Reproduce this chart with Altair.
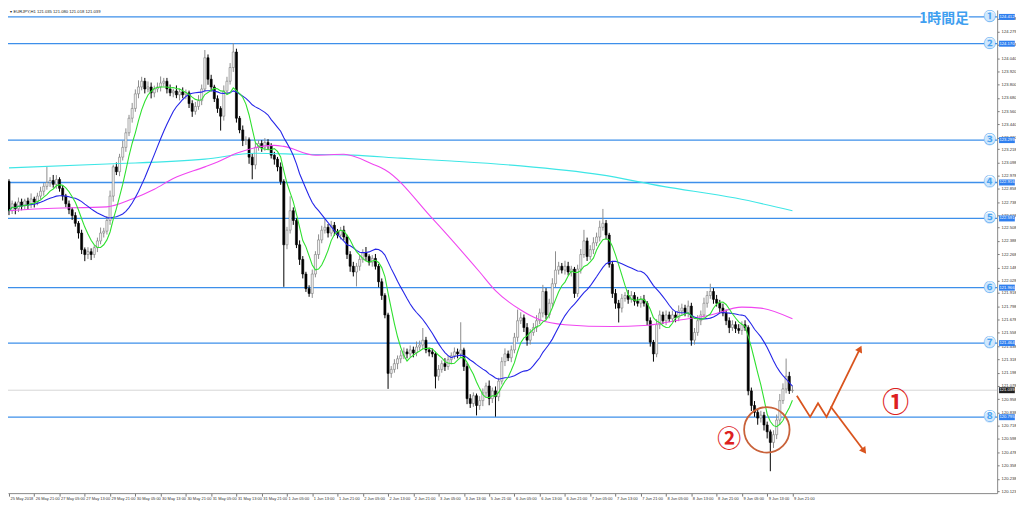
import altair as alt
import pandas as pd

# ---------------- data (EURJPY, H1) ----------------
FIRST_OPEN = 122.925
CLOSE = [
    122.661, 122.723, 122.679, 122.740, 122.705, 122.749, 122.714, 122.767, 122.740, 122.793,
    122.837, 122.881, 122.916, 122.934, 122.899, 122.943, 122.863, 122.793, 122.723, 122.670,
    122.617, 122.547, 122.459, 122.309, 122.265, 122.291, 122.265, 122.327, 122.388, 122.459,
    122.476, 122.573, 122.793, 123.057, 123.013, 123.145, 123.233, 123.365, 123.497, 123.585,
    123.717, 123.779, 123.831, 123.761, 123.779, 123.726, 123.761, 123.779, 123.814, 123.831,
    123.761, 123.726, 123.743, 123.708, 123.735, 123.708, 123.726, 123.629, 123.559, 123.603,
    123.655, 123.761, 124.043, 123.849, 123.779, 123.673, 123.585, 123.515, 123.743, 123.831,
    123.955, 124.095, 123.497, 123.391, 123.295, 123.303, 123.145, 123.075, 123.233, 123.268,
    123.233, 123.277, 123.251, 123.163, 123.127, 123.057, 122.925, 122.353, 122.485, 122.661,
    122.573, 122.353, 122.221, 122.089, 121.957, 121.913, 122.089, 122.265, 122.397, 122.485,
    122.511, 122.459, 122.529, 122.476, 122.441, 122.485, 122.423, 122.265, 122.159, 122.107,
    122.159, 122.221, 122.283, 122.247, 122.195, 122.230, 122.159, 122.019, 121.895, 121.719,
    121.191, 121.227, 121.279, 121.323, 121.350, 121.385, 121.367, 121.403, 121.376, 121.429,
    121.447, 121.491, 121.403, 121.385, 121.367, 121.165, 121.227, 121.279, 121.253, 121.315,
    121.350, 121.385, 121.367, 121.403, 121.253, 120.963, 120.919, 120.989, 120.901, 120.945,
    121.015, 121.077, 120.963, 121.033, 120.980, 121.121, 121.297, 121.367, 121.332, 121.403,
    121.517, 121.667, 121.693, 121.605, 121.491, 121.561, 121.605, 121.667, 121.737, 121.931,
    121.719, 121.825, 122.001, 122.124, 122.159, 122.124, 122.159, 122.107, 122.133, 121.913,
    122.133, 122.265, 122.388, 122.247, 122.309, 122.371, 122.423, 122.511, 122.547, 122.441,
    122.177, 121.913, 121.825, 121.781, 121.869, 121.895, 121.860, 121.895, 121.843, 121.825,
    121.860, 121.825, 121.667, 121.473, 121.367, 121.631, 121.719, 121.667, 121.719, 121.684,
    121.719, 121.693, 121.755, 121.781, 121.737, 121.799, 121.491, 121.561, 121.667, 121.719,
    121.825, 121.895, 121.931, 121.860, 121.825, 121.781, 121.737, 121.667, 121.605, 121.631,
    121.596, 121.579, 121.631, 121.605, 121.033, 120.901, 120.839, 120.787, 120.813, 120.725,
    120.663, 120.567, 120.637, 120.769, 120.945, 121.051, 121.165, 121.035, 121.039,
]
UPPER_WICK_PIPS = [
    2, 3, 2, 4, 3, 2, 3, 5, 2, 3,  4, 3, 14, 3, 5, 4, 2, 3, 2, 3,
    2, 3, 2, 3, 2, 4, 3, 2, 3, 5,  3, 4, 5, 2, 4, 3, 6, 4, 3, 5,
    4, 6, 4, 3, 5, 4, 3, 4, 6, 3,  3, 4, 2, 5, 3, 4, 3, 2, 3, 4,
    5, 4, 7, 3, 4, 2, 3, 2, 5, 4,  4, 8, 3, 2, 4, 3, 2, 3, 4, 3,
    3, 4, 3, 2, 3, 2, 4, 2, 3, 13,  3, 2, 4, 3, 2, 3, 4, 3, 5, 4,
    8, 3, 4, 3, 2, 3, 4, 2, 3, 4,  3, 4, 3, 5, 2, 3, 4, 2, 3, 2,
    2, 3, 4, 3, 5, 4, 3, 4, 3, 5,  4, 11, 3, 2, 3, 2, 4, 3, 5, 4,
    3, 4, 3, 25, 2, 3, 4, 3, 2, 4,  4, 3, 5, 3, 4, 3, 4, 5, 3, 4,
    4, 10, 5, 3, 4, 3, 4, 5, 4, 6,  3, 4, 5, 17, 4, 3, 5, 4, 3, 2,
    4, 5, 10, 3, 4, 5, 4, 6, 13, 3,  2, 3, 4, 3, 4, 3, 5, 4, 3, 4,
    3, 4, 2, 3, 2, 5, 4, 3, 4, 3,  4, 3, 5, 4, 3, 5, 3, 4, 5, 4,
    5, 4, 7, 3, 4, 3, 4, 3, 3, 4,  3, 4, 3, 4, 2, 3, 4, 3, 4, 3,
    3, 2, 4, 5, 6, 5, 16, 4, 4,
]
LOWER_WICK_PIPS = [
    4, 3, 5, 3, 4, 3, 4, 3, 5, 3,  3, 4, 3, 4, 3, 4, 3, 4, 3, 4,
    4, 3, 5, 4, 6, 4, 5, 3, 4, 3,  4, 3, 4, 5, 3, 4, 3, 4, 3, 4,
    3, 4, 3, 4, 3, 5, 4, 3, 4, 3,  4, 3, 4, 3, 5, 3, 4, 4, 5, 3,
    3, 4, 3, 5, 4, 3, 4, 13, 4, 3,  3, 4, 4, 3, 5, 4, 6, 13, 4, 3,
    4, 3, 4, 3, 5, 4, 3, 38, 4, 3,  4, 3, 5, 4, 3, 3, 4, 3, 4, 3,
    3, 4, 3, 4, 3, 4, 3, 4, 5, 4,  13, 4, 3, 4, 3, 4, 3, 5, 4, 3,
    14, 4, 3, 5, 4, 3, 4, 3, 4, 3,  3, 4, 3, 4, 3, 11, 4, 3, 4, 3,
    4, 3, 4, 3, 4, 5, 4, 3, 9, 4,  5, 4, 6, 4, 18, 4, 3, 4, 3, 4,
    3, 4, 3, 4, 5, 4, 3, 4, 3, 4,  4, 3, 4, 3, 4, 3, 4, 3, 4, 4,
    3, 4, 3, 4, 3, 4, 3, 4, 3, 4,  3, 4, 5, 13, 4, 3, 4, 3, 4, 3,
    4, 3, 4, 4, 7, 3, 4, 3, 4, 3,  3, 4, 3, 4, 3, 4, 5, 4, 3, 4,
    3, 4, 3, 4, 3, 4, 3, 4, 5, 3,  4, 3, 4, 3, 4, 5, 4, 6, 4, 5,
    6, 26, 5, 4, 4, 3, 4, 3, 2,
]
MA_FAST = 7
MA_SLOW = 21
MA75_I = [0, 10, 31, 39, 46, 52, 62, 66, 72, 84, 87, 97, 106, 115, 119, 134, 149, 154,
          162, 168, 176, 191, 201, 211, 222, 232, 238, 248]
MA75_P = [122.661, 122.679, 122.696, 122.767, 122.855, 122.951, 123.057, 123.101, 123.180,
          123.251, 123.242, 123.163, 123.171, 123.083, 123.031, 122.591, 122.107, 121.939,
          121.763, 121.675, 121.631, 121.614, 121.623, 121.667, 121.719, 121.790, 121.781, 121.684]
MA200_I = [0, 31, 62, 78, 93, 109, 124, 140, 162, 187, 207, 230, 248]
MA200_P = [123.048, 123.083, 123.127, 123.180, 123.171, 123.163, 123.136, 123.110, 123.066,
           122.987, 122.881, 122.775, 122.661]

TIME_LABELS = ["25 May 2018", "26 May 21:00", "27 May 05:00", "27 May 13:00", "29 May 21:00",
               "30 May 05:00", "30 May 13:00", "30 May 21:00", "31 May 05:00", "31 May 13:00",
               "31 May 21:00", "1 Jun 05:00", "1 Jun 13:00", "1 Jun 21:00", "2 Jun 05:00",
               "2 Jun 13:00", "2 Jun 21:00", "3 Jun 05:00", "3 Jun 13:00", "5 Jun 21:00",
               "6 Jun 05:00", "6 Jun 13:00", "6 Jun 21:00", "7 Jun 05:00", "7 Jun 13:00",
               "7 Jun 21:00", "8 Jun 05:00", "8 Jun 13:00", "8 Jun 21:00", "9 Jun 05:00",
               "9 Jun 13:00", "9 Jun 21:00"]
BARS_PER_LABEL = 8
PRICE_TICKS = [124.398, 124.279, 124.159, 124.040, 123.920, 123.800, 123.680, 123.560,
               123.440, 123.320, 123.218, 123.098, 122.978, 122.858, 122.738, 122.618,
               122.508, 122.388, 122.268, 122.148, 122.028, 121.918, 121.798, 121.678,
               121.558, 121.438, 121.318, 121.198, 121.078, 120.958, 120.838, 120.718,
               120.598, 120.478, 120.358, 120.238, 120.123]

LEVEL_PRICES = [124.412, 124.170, 123.299, 122.916, 122.591, 121.966, 121.464, 120.795]
LEVEL_LABELS = ["①", "②", "③", "④", "⑤", "⑥", "⑦", "⑧"]
LAST_PRICE = 121.039
HEADER = "▾ EURJPY,H1  121.035 121.080 121.018 121.039"
TITLE = "1時間足"

ZIG_I = [249.4, 253.6, 256.1, 258.8, 269.4]
ZIG_P = [120.989, 120.798, 120.921, 120.798, 121.414]
DOWN_I = [260.1, 270.7]
DOWN_P = [120.892, 120.490]
RING_I, RING_P = 239.9, 120.681
MARK1_I, MARK1_P = 280.7, 120.910
MARK2_I, MARK2_P = 228.0, 120.593

# ---------------- frames ----------------
n = len(CLOSE)
opens = [FIRST_OPEN] + CLOSE[:-1]
highs = [max(o, c) + u / 100 for o, c, u in zip(opens, CLOSE, UPPER_WICK_PIPS)]
lows = [min(o, c) - d / 100 for o, c, d in zip(opens, CLOSE, LOWER_WICK_PIPS)]
candles = pd.DataFrame({"i": list(range(n)), "open": opens, "close": CLOSE,
                        "high": highs, "low": lows})

X_DOMAIN = [-0.31, 312.8]
Y_DOMAIN = [120.109, 124.475]
xs = alt.Scale(domain=X_DOMAIN, nice=False, zero=False)
ys = alt.Scale(domain=Y_DOMAIN, nice=False, zero=False)

label_expr = "[" + ",".join("'" + t + "'" for t in TIME_LABELS) + "][round(datum.value/%d)]" % BARS_PER_LABEL
x_axis = alt.Axis(values=list(range(0, n, BARS_PER_LABEL)), labelExpr=label_expr, orient="bottom",
                  labelAlign="left", labelFontSize=4.0, labelFont="Liberation Sans", labelColor="#333",
                  labelPadding=0, tickSize=3, tickColor="#777", domainColor="#888", grid=False,
                  title=None, labelOverlap=False, labelFlush=False, labelOffset=1, labelBaseline="top")
y_axis = alt.Axis(values=PRICE_TICKS, format=".3f", orient="right", labelFontSize=4.2,
                  labelFont="Liberation Sans", labelColor="#333", labelPadding=2, tickSize=2,
                  tickColor="#777", domainColor="#888", grid=False, title=None, labelOverlap=False)

UP = "datum.close >= datum.open"


def X(field):
    return alt.X(field, scale=xs, axis=x_axis)


def Y(field):
    return alt.Y(field, scale=ys, axis=y_axis)


levels_df = pd.DataFrame({"p": LEVEL_PRICES, "lab": LEVEL_LABELS,
                          "txt": ["%.3f" % p for p in LEVEL_PRICES],
                          "xi": [310.4] * len(LEVEL_PRICES)})
last_df = pd.DataFrame({"p": [LAST_PRICE], "txt": ["%.3f" % LAST_PRICE]})

level_rules = alt.Chart(levels_df).mark_rule(color="#3d8fea", strokeWidth=1.3).encode(y=Y("p:Q"))
last_rule = alt.Chart(last_df).mark_rule(color="#d6d6d6", strokeWidth=1).encode(y=Y("p:Q"))

wicks = alt.Chart(candles).mark_rule(strokeWidth=1, clip=True).encode(
    x=X("i:Q"), y=Y("low:Q"), y2="high:Q",
    color=alt.condition(UP, alt.value("#8c8c8c"), alt.value("#000000")),
)
bodies = alt.Chart(candles).transform_calculate(
    x0="datum.i - 0.33", x1="datum.i + 0.33",
    top="max(datum.open, datum.close)", bot="min(datum.open, datum.close)",
).mark_rect(strokeWidth=0.6, clip=True).encode(
    x=X("x0:Q"), x2="x1:Q", y=Y("bot:Q"), y2="top:Q",
    fill=alt.condition(UP, alt.value("#f4f4f4"), alt.value("#000000")),
    stroke=alt.condition(UP, alt.value("#7a7a7a"), alt.value("#000000")),
)

ma200 = alt.Chart(pd.DataFrame({"i": MA200_I, "p": MA200_P})).mark_line(
    color="#3ee6e6", strokeWidth=1.1, interpolate="monotone", clip=True).encode(x=X("i:Q"), y=Y("p:Q"))
ma75 = alt.Chart(pd.DataFrame({"i": MA75_I, "p": MA75_P})).mark_line(
    color="#f046f0", strokeWidth=1.1, interpolate="monotone", clip=True).encode(x=X("i:Q"), y=Y("p:Q"))
ma_slow = alt.Chart(candles).transform_window(
    ma="mean(close)", frame=[-(MA_SLOW - 1), 0], sort=[alt.SortField("i")]
).mark_line(color="#2626e8", strokeWidth=1.1, clip=True).encode(x=X("i:Q"), y=Y("ma:Q"))
ma_fast = alt.Chart(candles).transform_window(
    ma="mean(close)", frame=[-(MA_FAST - 1), 0], sort=[alt.SortField("i")]
).mark_line(color="#2fe02f", strokeWidth=1.1, clip=True).encode(x=X("i:Q"), y=Y("ma:Q"))

ORANGE = "#d9541e"
zig = alt.Chart(pd.DataFrame({"i": ZIG_I, "p": ZIG_P, "k": list(range(len(ZIG_I)))})).mark_line(
    color=ORANGE, strokeWidth=1.8).encode(x=X("i:Q"), y=Y("p:Q"), order="k:Q")
down = alt.Chart(pd.DataFrame({"i": DOWN_I, "p": DOWN_P, "k": [0, 1]})).mark_line(
    color=ORANGE, strokeWidth=1.8).encode(x=X("i:Q"), y=Y("p:Q"), order="k:Q")
head_up = alt.Chart(pd.DataFrame({"i": [ZIG_I[-1]], "p": [ZIG_P[-1]]})).mark_point(
    shape="triangle-up", filled=True, size=60, color=ORANGE, opacity=1, angle=26).encode(
    x=X("i:Q"), y=Y("p:Q"))
head_dn = alt.Chart(pd.DataFrame({"i": [DOWN_I[-1]], "p": [DOWN_P[-1]]})).mark_point(
    shape="triangle-up", filled=True, size=60, color=ORANGE, opacity=1, angle=144).encode(
    x=X("i:Q"), y=Y("p:Q"))
ring = alt.Chart(pd.DataFrame({"i": [RING_I], "p": [RING_P]})).mark_point(
    shape="circle", filled=False, size=2100, strokeWidth=1.8, color="#c9623a", opacity=1).encode(
    x=X("i:Q"), y=Y("p:Q"))

red_df = pd.DataFrame({"i": [MARK1_I, MARK2_I], "p": [MARK1_P, MARK2_P], "t": ["①", "②"],
                       "fs": [27, 24]})
red_marks = alt.Chart(red_df).mark_text(font="Noto Sans CJK JP", fontWeight="bold",
                                        color="#dd2020", baseline="middle", align="center").encode(
    x=X("i:Q"), y=Y("p:Q"), text="t:N", size=alt.Size("fs:Q", scale=None, legend=None))

glow = alt.Chart(levels_df).mark_circle(size=125, color="#cfe7fd", opacity=1).encode(
    x=X("xi:Q"), y=Y("p:Q"))
circ_num = alt.Chart(levels_df).mark_text(font="Noto Sans CJK JP", fontSize=12.5, fontWeight="bold",
                                          color="#4aa3f0", baseline="middle", align="center").encode(
    x=X("xi:Q"), y=Y("p:Q"), text="lab:N")

box_df = levels_df.copy()
box_df["fill"] = "#2f7fef"
last_box = pd.DataFrame({"p": [LAST_PRICE], "txt": ["%.3f" % LAST_PRICE], "fill": ["#202020"]})
boxes_all = pd.concat([box_df[["p", "txt", "fill"]], last_box], ignore_index=True)
boxes = alt.Chart(boxes_all).transform_calculate(
    y0="datum.p - 0.027", y1="datum.p + 0.027", x0="313.4", x1="318.4"
).mark_rect().encode(x=X("x0:Q"), x2="x1:Q", y=Y("y0:Q"), y2="y1:Q",
                     fill=alt.Fill("fill:N", scale=None))
box_text = alt.Chart(boxes_all).transform_calculate(xm="315.9").mark_text(
    font="Liberation Sans", fontSize=4.2, color="white", baseline="middle", align="center").encode(
    x=X("xm:Q"), y=Y("p:Q"), text="txt:N")

title_df = pd.DataFrame({"i": [296.0], "p": [124.39], "t": [TITLE]})
title_halo = alt.Chart(title_df).mark_text(font="Noto Sans CJK JP", fontSize=14, fontWeight="bold",
                                           color="#ffffff", stroke="#ffffff", strokeWidth=3,
                                           baseline="middle", align="center").encode(
    x=X("i:Q"), y=Y("p:Q"), text="t:N")
title_txt = alt.Chart(title_df).mark_text(font="Noto Sans CJK JP", fontSize=14, fontWeight="bold",
                                          color="#3f9ff0", baseline="middle", align="center").encode(
    x=X("i:Q"), y=Y("p:Q"), text="t:N")

header = alt.Chart(pd.DataFrame({"i": [0.4], "p": [124.455], "t": [HEADER]})).mark_text(
    font="Liberation Sans", fontSize=4.2, color="#222", baseline="middle", align="left").encode(
    x=X("i:Q"), y=Y("p:Q"), text="t:N")

chart = alt.layer(
    level_rules, last_rule, wicks, bodies, ma200, ma75, ma_slow, ma_fast,
    zig, down, head_up, head_dn, ring, red_marks,
    title_halo, title_txt, glow, circ_num, boxes, box_text, header,
).properties(
    width=997, height=487, background="white",
    autosize=alt.AutoSizeParams(type="none"),
    padding={"left": 0, "top": 0, "right": 19, "bottom": 10},
).configure_view(stroke=None)

chart.save("out.html", embed_options={"renderer": "svg", "actions": False})
